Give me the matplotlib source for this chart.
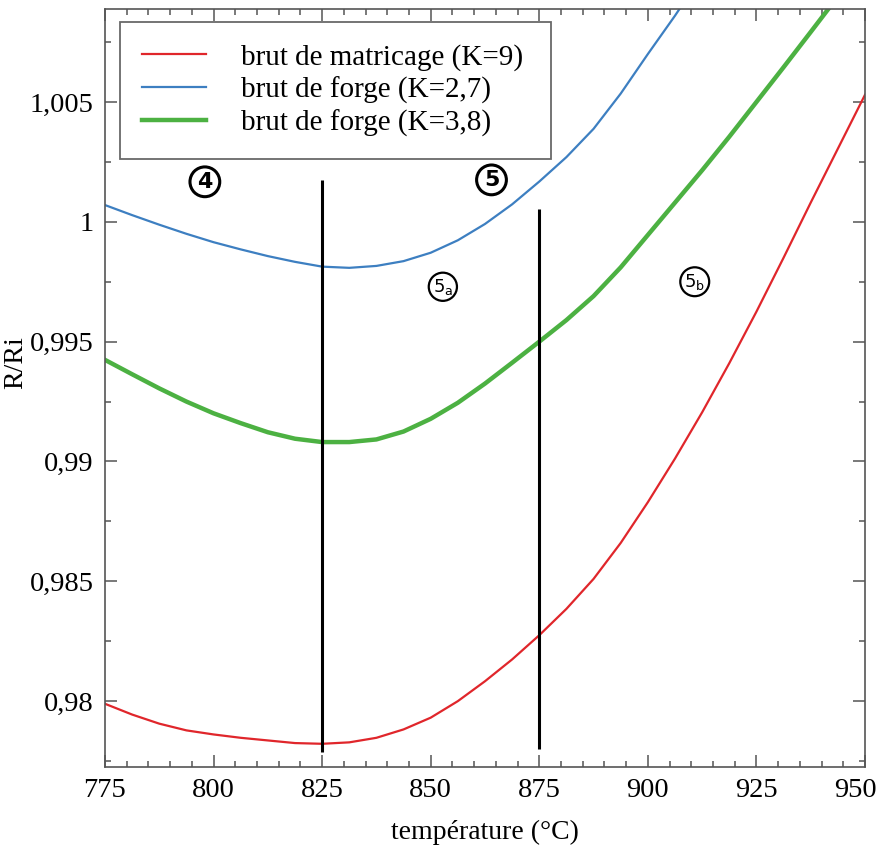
import matplotlib
matplotlib.use("Agg")
import matplotlib.pyplot as plt
import matplotlib.transforms as mtransforms
from matplotlib.ticker import MultipleLocator

plt.rcParams['font.family'] = ['Liberation Serif', 'DejaVu Serif']

# temperature (°C), read every 6.25 °C off the curves
temps = [775, 781.25, 787.5, 793.75, 800, 806.25, 812.5, 818.75, 825, 831.25, 837.5, 843.75,
         850, 856.25, 862.5, 868.75, 875, 881.25, 887.5, 893.75, 900, 906.25, 912.5, 918.75,
         925, 931.25, 937.5, 943.75, 950]

red_vals = [0.97989, 0.97944, 0.97906, 0.97878, 0.97861, 0.97847, 0.97836, 0.97825, 0.97822,
            0.97828, 0.97847, 0.97882, 0.97931, 0.98000, 0.98083, 0.98174, 0.98275, 0.98385,
            0.98510, 0.98660, 0.98830, 0.99012, 0.99205, 0.99410, 0.99625, 0.99850, 1.00080,
            1.00305, 1.00530]

blue_temps = temps[:23]
blue_vals = [1.00070, 1.00028, 0.99988, 0.99950, 0.99915, 0.99885, 0.99857, 0.99833, 0.99813,
             0.99808, 0.99816, 0.99836, 0.99871, 0.99923, 0.99991, 1.00073, 1.00168, 1.00270,
             1.00388, 1.00535, 1.00700, 1.00860, 1.01030]

green_temps = temps[:28]
green_vals = [0.99424, 0.99364, 0.99305, 0.99250, 0.99201, 0.99160, 0.99122, 0.99095, 0.99081,
              0.99081, 0.99092, 0.99125, 0.99178, 0.99245, 0.99325, 0.99412, 0.99500, 0.99590,
              0.99690, 0.99810, 0.99945, 1.00080, 1.00215, 1.00355, 1.00500, 1.00645, 1.00792,
              1.00940]

labels = ['brut de matricage (K=9)', 'brut de forge (K=2,7)', 'brut de forge (K=3,8)']

# phase boundaries (vertical lines)
bound_T = [825, 875]
bound_top = [1.00175, 1.00054]
bound_bottom = [0.97788, 0.97800]

yticks = [0.98, 0.985, 0.99, 0.995, 1.0, 1.005]
ytick_labels = ['0,98', '0,985', '0,99', '0,995', '1', '1,005']
xticks = [775, 800, 825, 850, 875, 900, 925, 950]

fig = plt.figure(figsize=(8.77, 8.5), dpi=100)
ax = fig.add_axes([0.1197, 0.0976, 0.8666, 0.8918])

ax.plot(temps, red_vals, color='#e0262b', lw=1.6, label=labels[0])
ax.plot(blue_temps, blue_vals, color='#3d7fc1', lw=1.6, label=labels[1])
ax.plot(green_temps, green_vals, color='#4cb142', lw=3.2, label=labels[2])

ax.vlines(bound_T, bound_bottom, bound_top, colors='black', lw=2.2)

ax.set_xlim(775, 950)
ax.set_ylim(0.97725, 1.00888)
ax.set_xticks(xticks)
ax.set_yticks(yticks)
ax.set_yticklabels(ytick_labels)
ax.xaxis.set_minor_locator(MultipleLocator(5))
ax.yaxis.set_minor_locator(MultipleLocator(0.0025))
ax.tick_params(which='both', direction='in', top=True, right=True, color='#555555',
               width=1.1, labelsize=20.5)
ax.tick_params(which='major', length=8.5, pad=8)
ax.tick_params(which='minor', length=4.5)
for s in ax.spines.values():
    s.set_color('#555555')
    s.set_linewidth(1.2)

# keep the last x tick label inside the canvas
last = ax.get_xticklabels()[-1]
last.set_transform(last.get_transform() + mtransforms.ScaledTranslation(-0.1, 0, fig.dpi_scale_trans))

ax.set_xlabel('température (°C)', fontsize=20, labelpad=12)
ax.set_ylabel('R/Ri', fontsize=20)
ax.yaxis.set_label_coords(-0.101, 0.534)

leg = ax.legend(loc='upper left', bbox_to_anchor=(0.0197, 0.810, 0.567, 0.173), mode='expand',
                borderaxespad=0, fancybox=False, fontsize=21, handlelength=2.2,
                handletextpad=1.2, labelspacing=0.2, borderpad=0.75)
leg.get_frame().set_edgecolor('#444444')
leg.get_frame().set_linewidth(1.3)

circ = dict(boxstyle='circle,pad=0.22', fc='white', ec='black', lw=2.2)
ax.text(798, 1.00167, '4', fontsize=16, fontweight='bold', family='DejaVu Sans',
        ha='center', va='center', bbox=circ)
ax.text(864, 1.00175, '5', fontsize=16, fontweight='bold', family='DejaVu Sans',
        ha='center', va='center', bbox=circ)
circ2 = dict(boxstyle='circle,pad=0.22', fc='white', ec='black', lw=1.6)
ax.text(852.8, 0.99729, r'5$_\mathregular{a}$', fontsize=13, family='DejaVu Sans',
        ha='center', va='center', bbox=circ2)
ax.text(910.8, 0.99750, r'5$_\mathregular{b}$', fontsize=13, family='DejaVu Sans',
        ha='center', va='center', bbox=circ2)

fig.savefig('out.png', dpi=100)
